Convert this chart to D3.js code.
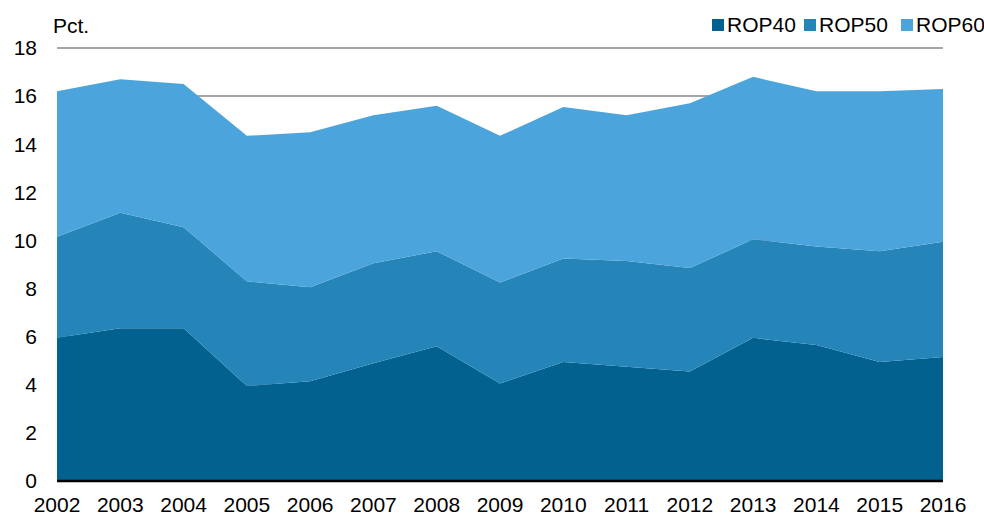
<!DOCTYPE html>
<html>
<head>
<meta charset="utf-8">
<script src="https://cdn.jsdelivr.net/npm/d3@7"></script>
<style>
  body { margin: 0; background: #fff; }
  svg { display: block; font-family: "Liberation Sans", Arial, sans-serif; }
</style>
</head>
<body>
<div id="chart"></div>
<script>
const years = [2002, 2003, 2004, 2005, 2006, 2007, 2008, 2009, 2010, 2011, 2012, 2013, 2014, 2015, 2016];
const rop40 = [5.95, 6.35, 6.35, 3.95, 4.15, 4.9, 5.6, 4.05, 4.95, 4.75, 4.55, 5.95, 5.65, 4.95, 5.15];
const rop50 = [4.2, 4.8, 4.2, 4.35, 3.9, 4.15, 3.95, 4.2, 4.3, 4.4, 4.3, 4.1, 4.1, 4.6, 4.8];
const rop60 = [6.05, 5.55, 5.95, 6.05, 6.45, 6.15, 6.05, 6.1, 6.3, 6.05, 6.85, 6.75, 6.45, 6.65, 6.35];
const seriesNames = ["ROP40", "ROP50", "ROP60"];
const yTicks = [0, 2, 4, 6, 8, 10, 12, 14, 16, 18];

const width = 984, height = 516;
const margin = { top: 48, right: 41, bottom: 35, left: 57 };
const color = d3.scaleOrdinal().domain(seriesNames).range(["#02618f", "#2585b9", "#4ba5dc"]);

const table = years.map((y, i) => ({ year: y, ROP40: rop40[i], ROP50: rop50[i], ROP60: rop60[i] }));

const svg = d3.select("#chart").append("svg")
    .attr("width", width)
    .attr("height", height);

const x = d3.scaleLinear()
    .domain(d3.extent(years))
    .range([margin.left, width - margin.right]);

const y = d3.scaleLinear()
    .domain([0, 18])
    .range([height - margin.bottom, margin.top]);

// gridlines
svg.append("g")
    .selectAll("line")
    .data(yTicks.filter(d => d > 0))
    .join("line")
    .attr("x1", margin.left)
    .attr("x2", width - margin.right)
    .attr("y1", d => y(d))
    .attr("y2", d => y(d))
    .attr("stroke", "#a6a6a6")
    .attr("stroke-width", 2);

const stack = d3.stack().keys(seriesNames);
const area = d3.area()
    .x(d => x(d.data.year))
    .y0(d => y(d[0]))
    .y1(d => y(d[1]));

svg.append("g")
    .selectAll("path")
    .data(stack(table))
    .join("path")
    .attr("fill", d => color(d.key))
    .attr("d", area);

// zero line
svg.append("line")
    .attr("x1", margin.left)
    .attr("x2", width - margin.right)
    .attr("y1", y(0))
    .attr("y2", y(0))
    .attr("stroke", "#000")
    .attr("stroke-width", 2.5);

// y axis labels
svg.append("g")
    .selectAll("text")
    .data(yTicks)
    .join("text")
    .attr("x", 37)
    .attr("y", d => y(d))
    .attr("dy", "0.35em")
    .attr("text-anchor", "end")
    .style("font-size", "21px")
    .attr("fill", "#000")
    .text(d => d);

// x axis labels
svg.append("g")
    .selectAll("text")
    .data(years)
    .join("text")
    .attr("x", d => x(d))
    .attr("y", 512)
    .attr("text-anchor", "middle")
    .style("font-size", "21px")
    .attr("fill", "#000")
    .text(d => d);

svg.append("text")
    .attr("x", 53)
    .attr("y", 33)
    .style("font-size", "21px")
    .text("Pct.");

// legend
const legendX = [712, 804, 901];
const legend = svg.append("g");
seriesNames.forEach((name, i) => {
    const row = legend.append("g")
        .attr("transform", "translate(" + legendX[i] + ",19)");
    row.append("rect")
        .attr("width", 12)
        .attr("height", 12)
        .attr("fill", color(name));
    row.append("text")
        .attr("x", 15)
        .attr("y", 13)
        .style("font-size", "21px")
        .text(name);
});
</script>
</body>
</html>
